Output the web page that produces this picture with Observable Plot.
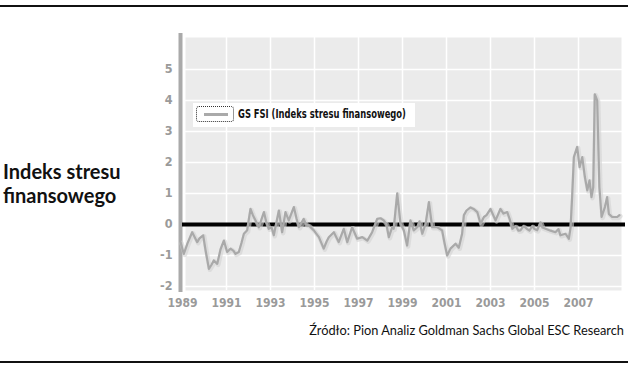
<!DOCTYPE html>
<html><head><meta charset="utf-8">
<script src="https://cdn.jsdelivr.net/npm/d3@7"></script>
<script src="https://cdn.jsdelivr.net/npm/@observablehq/plot@0.6"></script>
<style>
html,body{margin:0;padding:0;background:#fff;}
#wrap{position:relative;width:634px;height:373px;overflow:hidden;font-family:Lato,"Open Sans",sans-serif;}
.hr{position:absolute;left:0;width:628px;height:2px;background:#111;}
#title{position:absolute;left:3px;top:159px;font-family:Lato,sans-serif;font-weight:700;font-size:20px;line-height:24px;color:#111;}
#src{position:absolute;right:10px;top:322px;font-size:12.8px;color:#111;font-family:Lato,sans-serif;}
#legend{position:absolute;left:193px;top:103px;width:222px;height:24px;background:#fff;}
#legend .key{position:absolute;left:3px;top:3px;width:38px;height:16px;border:1px dotted #333;border-radius:3px;box-sizing:border-box;}
#legend .key span{position:absolute;left:7px;top:6px;width:24px;height:3px;background:#aaa;}
#legend .lab{position:absolute;left:45px;top:4px;font-family:"DejaVu Sans Condensed",sans-serif;font-stretch:condensed;font-weight:700;font-size:11.5px;color:#111;white-space:nowrap;transform:scaleX(0.81);transform-origin:0 0;}
#chart{position:absolute;left:0;top:0;}
</style></head>
<body><div id="wrap">
<div class="hr" style="top:5px"></div>
<div id="chart"></div>
<div id="title">Indeks stresu<br>finansowego</div>
<div id="legend"><div class="key"><span></span></div><div class="lab"></div></div>
<div id="src"></div>
<div class="hr" style="top:361px"></div>
</div>
<script>
const seriesName = "GS FSI (Indeks stresu finansowego)";
const sourceText = "Źródło: Pion Analiz Goldman Sachs Global ESC Research";
const years = [1988.91,1989.06,1989.23,1989.44,1989.67,1989.77,1989.94,1990.05,1990.20,1990.32,1990.42,1990.58,1990.73,1990.88,1991.03,1991.18,1991.32,1991.41,1991.56,1991.68,1991.79,1991.94,1992.00,1992.09,1992.20,1992.32,1992.47,1992.70,1992.80,1992.92,1993.05,1993.15,1993.38,1993.53,1993.68,1993.83,1994.06,1994.18,1994.29,1994.51,1994.61,1994.74,1994.97,1995.20,1995.42,1995.55,1995.65,1995.88,1996.10,1996.33,1996.49,1996.71,1996.94,1997.17,1997.40,1997.62,1997.85,1998.00,1998.15,1998.27,1998.38,1998.53,1998.60,1998.76,1998.91,1999.06,1999.21,1999.36,1999.51,1999.67,1999.77,1999.90,2000.05,2000.20,2000.35,2000.58,2000.80,2000.91,2001.03,2001.18,2001.41,2001.56,2001.71,2001.79,2001.91,2002.09,2002.23,2002.40,2002.55,2002.70,2002.82,2003.00,2003.23,2003.45,2003.59,2003.76,2003.86,2003.99,2004.14,2004.27,2004.36,2004.50,2004.67,2004.77,2004.90,2005.00,2005.12,2005.27,2005.36,2005.50,2005.73,2005.95,2006.09,2006.18,2006.41,2006.56,2006.64,2006.71,2006.79,2006.94,2007.05,2007.17,2007.29,2007.40,2007.50,2007.59,2007.67,2007.74,2007.85,2007.95,2008.05,2008.20,2008.30,2008.38,2008.53,2008.76,2008.86];
const fsi = [-0.57,-0.95,-0.6,-0.25,-0.57,-0.45,-0.35,-0.84,-1.43,-1.3,-1.16,-1.27,-0.8,-0.52,-0.89,-0.78,-0.85,-0.95,-0.89,-0.6,-0.3,-0.19,0.1,0.5,0.3,0.13,-0.09,0.4,0.1,-0.14,-0.1,-0.35,0.45,-0.25,0.4,0.13,0.56,0.2,-0.09,0.18,0.0,-0.03,-0.19,-0.41,-0.78,-0.55,-0.41,-0.25,-0.57,-0.14,-0.57,-0.09,-0.46,-0.41,-0.52,-0.25,0.18,0.2,0.13,0.0,-0.41,-0.09,-0.14,1.0,0.02,-0.19,-0.68,0.13,-0.19,-0.09,0.1,-0.3,0.02,0.72,-0.09,-0.09,-0.19,-0.6,-1.0,-0.78,-0.62,-0.75,-0.3,0.3,0.45,0.55,0.5,0.4,0.02,0.24,0.3,0.5,0.13,0.5,0.35,0.4,0.2,-0.14,-0.05,-0.2,-0.19,-0.05,-0.15,-0.2,-0.05,-0.15,-0.19,0.07,-0.1,-0.14,-0.2,-0.25,-0.15,-0.35,-0.3,-0.46,-0.1,0.88,2.17,2.5,1.85,2.17,1.53,1.1,1.42,0.88,1.2,4.2,4.0,1.2,0.24,0.56,0.88,0.34,0.24,0.24,0.3];
const xTicks = [1989,1991,1993,1995,1997,1999,2001,2003,2005,2007];
const yTicks = [-2,-1,0,1,2,3,4,5];
const xDomain = [1989, 2009];
const yDomain = [-2.13, 6.03];

const data = years.map((t, i) => ({t, v: fsi[i]}));
const tickFont = `"DejaVu Sans Condensed",sans-serif`;

const chart = Plot.plot({
  width: 634, height: 315,
  marginLeft: 182, marginRight: 12, marginTop: 37, marginBottom: 25,
  style: {fontFamily: tickFont, fontSize: "12px", fontWeight: "700", background: "transparent"},
  x: {domain: xDomain},
  y: {domain: yDomain},
  marks: [
    Plot.frame({fill: "#ebebeb", stroke: null, insetLeft: 3, insetRight: 1}),
    Plot.gridX(xTicks, {stroke: "#fff", strokeOpacity: 1, strokeWidth: 1.5}),
    Plot.gridY(yTicks.filter(d => d !== 0), {stroke: "#fff", strokeOpacity: 1, strokeWidth: 1.5}),
    Plot.ruleX([xDomain[0]], {dx: -2, stroke: "#aaa", strokeWidth: 4, insetTop: -4, insetBottom: -2}),
    Plot.ruleY([0], {stroke: "#000", strokeWidth: 4, insetRight: -3}),
    Plot.line(data, {x: "t", y: "v", stroke: "#d2d2d2", strokeWidth: 4.5, strokeOpacity: 0.6, dx: 1, dy: 1}),
    Plot.line(data, {x: "t", y: "v", stroke: "#a9a9a9", strokeWidth: 2.2}),
    Plot.axisY(yTicks, {tickSize: 0, tickPadding: 10, fill: "#9a9a9a", fontSize: 12.5, label: null, tickFormat: d => String(d)}),
    Plot.axisX(xTicks, {tickSize: 0, tickPadding: 8, fill: "#9a9a9a", fontSize: 12, label: null, tickFormat: d => String(d)})
  ]
});
document.getElementById("chart").appendChild(chart);
document.querySelector("#legend .lab").textContent = seriesName;
document.getElementById("src").textContent = sourceText;
</script>
</body></html>
